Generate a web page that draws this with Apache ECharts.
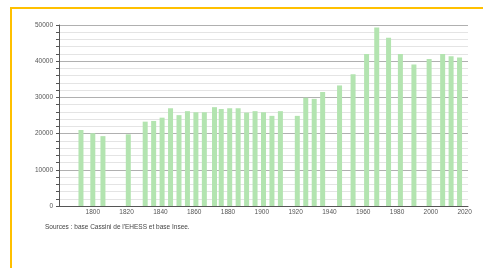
<!DOCTYPE html>
<html>
<head>
<meta charset="utf-8">
<script src="https://cdn.jsdelivr.net/npm/echarts@6/dist/echarts.min.js"></script>
<style>
  html, body { margin: 0; padding: 0; background: #fff; }
  #chart { width: 483px; height: 268px; }
</style>
</head>
<body>
<div id="chart"></div>
<script>
// census years and population
const years = [1793, 1800, 1806, 1821, 1831, 1836, 1841, 1846, 1851, 1856, 1861, 1866,
  1872, 1876, 1881, 1886, 1891, 1896, 1901, 1906, 1911, 1921, 1926, 1931, 1936,
  1946, 1954, 1962, 1968, 1975, 1982, 1990, 1999, 2007, 2012, 2017];
const population = [21000, 20100, 19300, 19800, 23300, 23500, 24400, 27000, 25100, 26200, 25900, 25900,
  27300, 26800, 27000, 27000, 25800, 26200, 25900, 24900, 26200, 24900, 29900, 29600, 31500,
  33300, 36400, 42000, 49300, 46500, 42000, 39100, 40600, 42000, 41400, 41000];
const sourceText = "Sources : base Cassini de l'EHESS et base Insee.";

const chart = echarts.init(document.getElementById('chart'));
const labelFont = { fontFamily: 'Liberation Sans', fontSize: 6.5, color: '#555' };

chart.setOption({
  animation: false,
  backgroundColor: '#fff',
  title: {
    text: sourceText,
    left: 40,
    top: 219,
    textStyle: { fontFamily: 'Liberation Sans', fontSize: 6.5, fontWeight: 'normal', color: '#444' }
  },
  graphic: [{
    type: 'rect',
    shape: { x: 11, y: 8, width: 600, height: 400 },
    style: { fill: 'none', stroke: '#ffc000', lineWidth: 2 },
    silent: true
  }],
  grid: { left: 59, right: 15, top: 25, bottom: 62 },
  xAxis: {
    type: 'value',
    min: 1780,
    max: 2022,
    interval: 20,
    splitLine: { show: false },
    axisTick: { show: false },
    axisLine: { lineStyle: { color: '#555', width: 1 } },
    axisLabel: Object.assign({
      margin: 3,
      formatter: v => (v % 20 === 0 && v > 1780) ? String(v) : ''
    }, labelFont)
  },
  yAxis: {
    type: 'value',
    min: 0,
    max: 50000,
    interval: 10000,
    axisLine: { show: true, lineStyle: { color: '#555', width: 1 } },
    axisTick: { show: true, length: 3, lineStyle: { color: '#555' } },
    minorTick: { show: true, splitNumber: 5, length: 3, lineStyle: { color: '#555' } },
    splitLine: { lineStyle: { color: '#b0b0b0', width: 1 } },
    minorSplitLine: { show: true, lineStyle: { color: '#e4e4e4', width: 1 } },
    axisLabel: Object.assign({ margin: 6, formatter: v => String(v) }, labelFont)
  },
  series: [{
    type: 'bar',
    barWidth: 5,
    itemStyle: { color: '#b3e4b0' },
    data: years.map((y, i) => [y, population[i]])
  }]
});
</script>
</body>
</html>
